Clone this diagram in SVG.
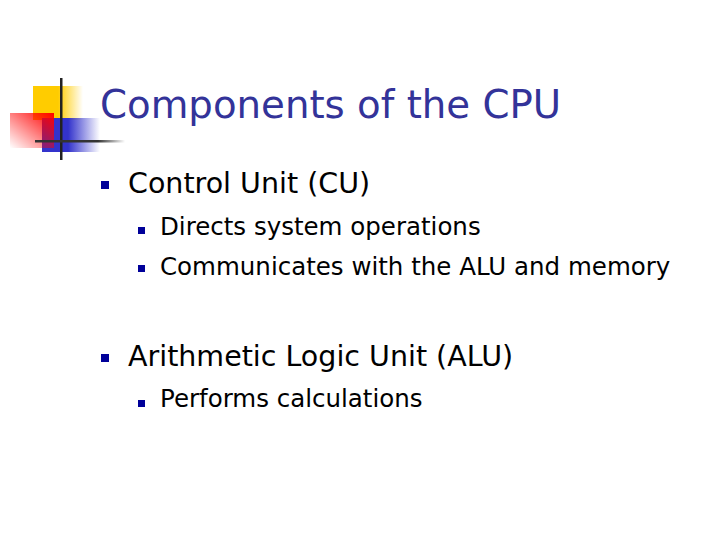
<svg xmlns="http://www.w3.org/2000/svg" width="720" height="540" viewBox="0 0 720 540">
<defs>
<linearGradient id="gy" x1="0" x2="1" y1="0" y2="0"><stop offset="0" stop-color="#ffcc00"/><stop offset="0.5" stop-color="#ffcc00"/><stop offset="1" stop-color="#ffcc00" stop-opacity="0"/></linearGradient>
<linearGradient id="gb" x1="0" x2="1" y1="0" y2="0"><stop offset="0" stop-color="#3333cc"/><stop offset="0.45" stop-color="#3333cc"/><stop offset="1" stop-color="#3333cc" stop-opacity="0"/></linearGradient>
<linearGradient id="gr" x1="1" x2="0" y1="0" y2="1"><stop offset="0" stop-color="#ff0000"/><stop offset="1" stop-color="#ff0000" stop-opacity="0"/></linearGradient>
<linearGradient id="gl" x1="0" x2="1"><stop offset="0" stop-color="#333"/><stop offset="0.7" stop-color="#333"/><stop offset="1" stop-color="#333" stop-opacity="0"/></linearGradient>
</defs>
<style>
text{font-family:"DejaVu Sans",sans-serif;fill:#000}
.b{fill:#000099}
</style>
<rect width="720" height="540" fill="#fff"/>
<g id="logo">
<rect x="33" y="86" width="50" height="34" fill="url(#gy)"/>
<rect x="42" y="118" width="58" height="34" fill="url(#gb)"/>
<rect x="10" y="113" width="44" height="35" fill="url(#gr)"/>
<rect x="60" y="78" width="2.5" height="82" fill="#222"/>
<rect x="35" y="140" width="90" height="2.5" fill="url(#gl)"/>
</g>
<text x="100" y="118" font-size="38.7" style="fill:#333399">Components of the CPU</text>
<g id="list">
<rect class="b" x="101" y="181" width="8" height="8"/>
<text x="128" y="193" font-size="28.5">Control Unit (CU)</text>
<rect class="b" x="138" y="227" width="7" height="7"/>
<text x="160" y="235" font-size="24.5">Directs system operations</text>
<rect class="b" x="138" y="265" width="7" height="7"/>
<text x="160" y="275" font-size="24.5">Communicates with the ALU and memory</text>
<rect class="b" x="101" y="354" width="8" height="8"/>
<text x="128" y="366" font-size="28.5">Arithmetic Logic Unit (ALU)</text>
<rect class="b" x="138" y="400" width="7" height="7"/>
<text x="160" y="407" font-size="24.5">Performs calculations</text>
</g>
</svg>
